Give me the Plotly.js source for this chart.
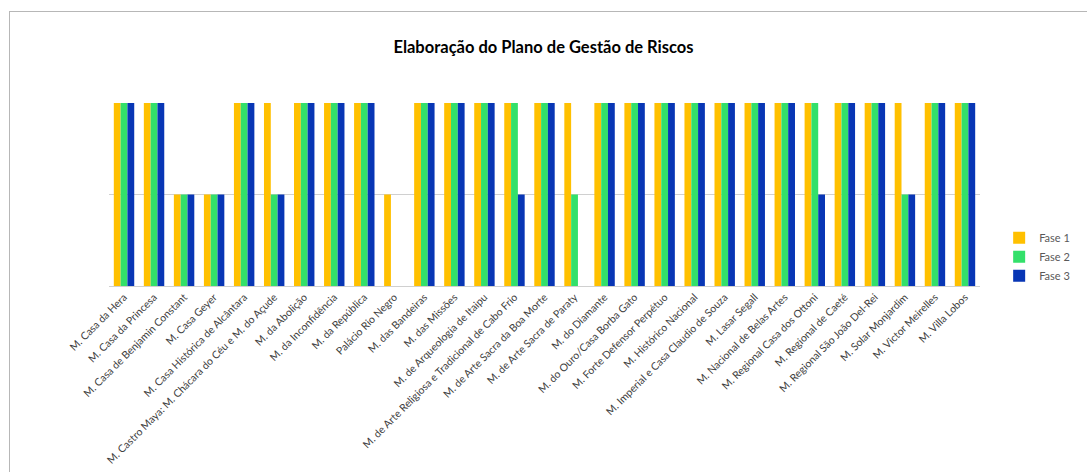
<!DOCTYPE html>
<html>
<head>
<meta charset="utf-8">
<script src="https://cdn.plot.ly/plotly-3.0.1.min.js"></script>
<style>
html,body{margin:0;padding:0;background:#fff;}
#chart{width:1087px;height:472px;}
#frame{position:absolute;left:9px;top:11px;width:1100px;height:500px;border-left:1px solid #b7b7b7;border-top:1px solid #b7b7b7;pointer-events:none;}
</style>
</head>
<body>
<div id="chart"></div>
<div id="frame"></div>
<script>
const categories = [
  "M. Casa da Hera",
  "M. Casa da Princesa",
  "M. Casa de Benjamin Constant",
  "M. Casa Geyer",
  "M. Casa Histórica de Alcântara",
  "M. Castro Maya: M. Chácara do Céu e M. do Açude",
  "M. da Abolição",
  "M. da Inconfidência",
  "M. da República",
  "Palácio Rio Negro",
  "M. das Bandeiras",
  "M. das Missões",
  "M. de Arqueologia de Itaipu",
  "M. de Arte Religiosa e Tradicional de Cabo Frio",
  "M. de Arte Sacra da Boa Morte",
  "M. de Arte Sacra de Paraty",
  "M. do Diamante",
  "M. do Ouro/Casa Borba Gato",
  "M. Forte Defensor Perpétuo",
  "M. Histórico Nacional",
  "M. Imperial e Casa Claudio de Souza",
  "M. Lasar Segall",
  "M. Nacional de Belas Artes",
  "M. Regional Casa dos Ottoni",
  "M. Regional de Caeté",
  "M. Regional São João Del-Rei",
  "M. Solar Monjardim",
  "M. Victor Meirelles",
  "M. Villa Lobos"
];
const fase1 = [2,2,1,1,2,2,2,2,2,1,2,2,2,2,2,2,2,2,2,2,2,2,2,2,2,2,2,2,2];
const fase2 = [2,2,1,1,2,1,2,2,2,0,2,2,2,2,2,1,2,2,2,2,2,2,2,2,2,2,1,2,2];
const fase3 = [2,2,1,1,2,1,2,2,2,0,2,2,2,1,2,0,2,2,2,2,2,2,2,1,2,2,1,2,2];
const seriesNames = ["Fase 1","Fase 2","Fase 3"];
const seriesColors = ["#FFC000","#33E06A","#0836B5"];
const chartTitle = "Elaboração do Plano de Gestão de Riscos";

const values = [fase1, fase2, fase3];
const traces = values.map((v,i)=>({
  type:'bar', x:categories, y:v, name:seriesNames[i],
  marker:{color:seriesColors[i], line:{width:0}}
}));

const layout = {
  width:1087, height:472,
  margin:{l:109, r:65, t:103, b:186},
  paper_bgcolor:'rgba(0,0,0,0)', plot_bgcolor:'#fff',
  font:{family:'Lato, "Open Sans", sans-serif', color:'#595959', size:10},
  title:{text:'<b>'+chartTitle+'</b>', x:0.5, xanchor:'center', y:0.9, yref:'container', yanchor:'middle',
         font:{family:'Lato, "Open Sans", sans-serif', size:16.5, color:'#000'}},
  barmode:'group', bargap:0.32, bargroupgap:0,
  showlegend:true,
  legend:{x:1.022, xanchor:'left', y:0.16, yanchor:'middle', font:{size:11, color:'#595959'},
          bgcolor:'rgba(0,0,0,0)', tracegroupgap:0},
  xaxis:{tickangle:-45, showline:true, linecolor:'#d0d0d0', linewidth:1, ticks:'', showgrid:false,
         tickfont:{size:10.5, color:'#404040'}, automargin:false},
  yaxis:{range:[0,2], dtick:1, showticklabels:false, showgrid:true, gridcolor:'#d0d0d0', zeroline:false,
         showline:false, ticks:'', fixedrange:true}
};
Plotly.newPlot('chart', traces, layout, {displayModeBar:false, staticPlot:true});
</script>
</body>
</html>
